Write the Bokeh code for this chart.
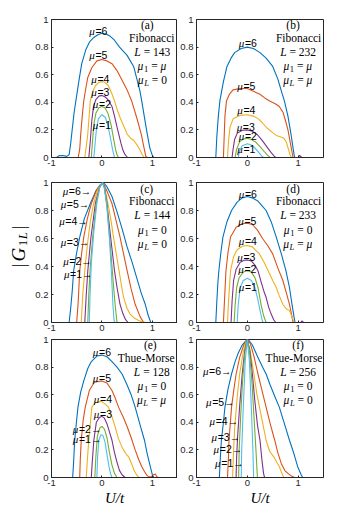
from bokeh.plotting import figure
from bokeh.models import Range1d, FixedTicker, PrintfTickFormatter
from bokeh.layouts import column, row
from bokeh.core.properties import value
from bokeh.embed import file_html
from bokeh.resources import INLINE

# ---------------- data ----------------
X_TICKS = [-1, 0, 1]
Y_TICKS = [0, 0.2, 0.4, 0.6, 0.8, 1]
MU_LEVELS = ["6", "5", "4", "3", "2", "1"]
COLORS = ["#0072BD", "#D95319", "#EDB120", "#7E2F8E", "#77AC30", "#4DBEEE"]

# panel (a)
A6_X = [-1, -0.9, -0.86, -0.78, -0.7, -0.65, -0.62, -0.59, -0.55, -0.5, -0.45, -0.4, -0.32, -0.24, -0.16, -0.08, 0, 0.08, 0.16, 0.25, 0.35, 0.5, 0.63, 0.7, 0.75, 0.79, 0.84, 0.9, 0.95, 1.0, 1.03, 1.5]
A6_Y = [0, 0, 0.012, 0.015, 0.008, 0.02, 0.1, 0.2, 0.33, 0.45, 0.57, 0.68, 0.78, 0.84, 0.87, 0.89, 0.9, 0.895, 0.88, 0.85, 0.8, 0.74, 0.66, 0.56, 0.49, 0.41, 0.3, 0.17, 0.07, 0.015, 0, 0]
A5_X = [-1, -0.47, -0.44, -0.42, -0.39, -0.36, -0.32, -0.28, -0.2, -0.1, 0, 0.1, 0.2, 0.3, 0.4, 0.5, 0.59, 0.69, 0.78, 0.83, 0.87, 0.9, 1.5]
A5_Y = [0, 0, 0.06, 0.17, 0.3, 0.41, 0.5, 0.58, 0.65, 0.7, 0.71, 0.7, 0.68, 0.63, 0.56, 0.49, 0.41, 0.29, 0.17, 0.08, 0.01, 0, 0]
A4_X = [-1, -0.34, -0.31, -0.28, -0.23, -0.18, -0.13, -0.06, 0, 0.06, 0.13, 0.2, 0.25, 0.3, 0.36, 0.43, 0.5, 0.57, 0.63, 0.7, 0.76, 0.8, 0.84, 1.5]
A4_Y = [0, 0, 0.08, 0.17, 0.41, 0.48, 0.52, 0.545, 0.55, 0.545, 0.52, 0.46, 0.41, 0.35, 0.29, 0.23, 0.17, 0.14, 0.125, 0.09, 0.05, 0.02, 0, 0]
A3_X = [-1, -0.26, -0.23, -0.2, -0.165, -0.12, -0.06, 0, 0.06, 0.12, 0.2, 0.25, 0.3, 0.34, 0.38, 0.42, 0.46, 0.51, 1.5]
A3_Y = [0, 0, 0.12, 0.27, 0.37, 0.42, 0.445, 0.45, 0.44, 0.42, 0.37, 0.3, 0.22, 0.16, 0.1, 0.05, 0.02, 0, 0]
A2_X = [-1, -0.21, -0.19, -0.16, -0.12, -0.06, 0, 0.06, 0.12, 0.18, 0.23, 0.27, 0.3, 0.33, 1.5]
A2_Y = [0, 0, 0.1, 0.24, 0.32, 0.36, 0.37, 0.36, 0.32, 0.24, 0.14, 0.06, 0.02, 0, 0]
A1_X = [-1, -0.16, -0.14, -0.11, -0.07, 0, 0.07, 0.12, 0.17, 0.21, 0.25, 1.5]
A1_Y = [0, 0, 0.08, 0.2, 0.28, 0.31, 0.29, 0.23, 0.14, 0.06, 0, 0]

# panel (b)
B6_X = [-1, -0.62, -0.6, -0.57, -0.54, -0.47, -0.4, -0.32, -0.25, -0.12, 0, 0.12, 0.25, 0.37, 0.5, 0.6, 0.68, 0.73, 0.8, 0.86, 0.9, 0.93, 1.5]
B6_Y = [0, 0, 0.15, 0.3, 0.41, 0.55, 0.66, 0.72, 0.76, 0.79, 0.8, 0.79, 0.76, 0.72, 0.66, 0.57, 0.47, 0.41, 0.3, 0.17, 0.07, 0, 0]
B5_X = [-1, -0.47, -0.455, -0.44, -0.41, -0.35, -0.28, -0.14, 0, 0.12, 0.24, 0.35, 0.44, 0.55, 0.63, 0.7, 0.75, 0.8, 0.85, 0.9, 1.5]
B5_Y = [0, 0, 0.15, 0.3, 0.41, 0.46, 0.49, 0.5, 0.5, 0.48, 0.46, 0.43, 0.41, 0.39, 0.37, 0.33, 0.27, 0.2, 0.1, 0, 0]
B4_X = [-1, -0.39, -0.37, -0.34, -0.28, -0.15, 0, 0.12, 0.22, 0.3, 0.4, 0.5, 0.57, 0.65, 0.72, 0.77, 0.81, 0.84, 0.87, 1.5]
B4_Y = [0, 0, 0.12, 0.22, 0.28, 0.305, 0.31, 0.3, 0.28, 0.25, 0.21, 0.18, 0.16, 0.15, 0.14, 0.11, 0.06, 0.02, 0, 0]
B3_X = [-1, -0.3, -0.28, -0.25, -0.2, -0.1, 0, 0.1, 0.2, 0.3, 0.4, 0.47, 0.53, 0.56, 1.0, 1.03, 1.07, 1.5]
B3_Y = [0, 0, 0.06, 0.13, 0.175, 0.198, 0.2, 0.19, 0.165, 0.12, 0.07, 0.035, 0.01, 0, 0, 0.015, 0, 0]
B2_X = [-1, -0.24, -0.21, -0.15, -0.07, 0, 0.08, 0.17, 0.26, 0.34, 0.4, 0.45, 1.5]
B2_Y = [0, 0, 0.06, 0.115, 0.135, 0.14, 0.13, 0.11, 0.075, 0.04, 0.015, 0, 0]
B1_X = [-1, -0.18, -0.15, -0.1, 0, 0.08, 0.16, 0.23, 0.28, 0.32, 1.5]
B1_Y = [0, 0, 0.05, 0.085, 0.1, 0.09, 0.065, 0.035, 0.012, 0, 0]

# panel (c)
C6_X = [-1, -0.65, -0.62, -0.59, -0.56, -0.5, -0.44, -0.35, -0.23, -0.12, -0.04, 0.03, 0.1, 0.2, 0.3, 0.4, 0.5, 0.6, 0.69, 0.78, 0.86, 0.92, 0.97, 1.5]
C6_Y = [0, 0, 0.1, 0.22, 0.37, 0.5, 0.61, 0.74, 0.85, 0.94, 0.98, 1.0, 0.97, 0.9, 0.79, 0.67, 0.54, 0.43, 0.32, 0.21, 0.13, 0.05, 0, 0]
C5_X = [-1, -0.5, -0.47, -0.44, -0.4, -0.36, -0.29, -0.21, -0.1, 0.02, 0.1, 0.2, 0.28, 0.36, 0.43, 0.5, 0.58, 0.66, 0.76, 0.83, 1.5]
C5_Y = [0, 0, 0.15, 0.37, 0.5, 0.61, 0.74, 0.85, 0.95, 1.0, 0.94, 0.85, 0.73, 0.61, 0.49, 0.37, 0.24, 0.13, 0.04, 0, 0]
C4_X = [-1, -0.41, -0.38, -0.34, -0.29, -0.23, -0.165, -0.08, 0.01, 0.06, 0.12, 0.18, 0.23, 0.29, 0.34, 0.39, 0.43, 0.5, 0.56, 0.65, 0.73, 0.8, 0.88, 1.5]
C4_Y = [0, 0, 0.2, 0.37, 0.55, 0.72, 0.85, 0.95, 1.0, 0.96, 0.85, 0.73, 0.61, 0.48, 0.37, 0.26, 0.18, 0.1, 0.06, 0.03, 0.015, 0.005, 0, 0]
C3_X = [-1, -0.34, -0.31, -0.28, -0.22, -0.13, -0.05, 0.01, 0.05, 0.1, 0.17, 0.25, 0.3, 0.36, 0.42, 0.47, 0.52, 1.5]
C3_Y = [0, 0, 0.2, 0.37, 0.6, 0.85, 0.96, 1.0, 0.97, 0.85, 0.62, 0.37, 0.25, 0.13, 0.06, 0.02, 0, 0]
C2_X = [-1, -0.28, -0.26, -0.23, -0.18, -0.11, -0.04, 0.01, 0.05, 0.1, 0.15, 0.2, 0.24, 0.27, 0.3, 1.5]
C2_Y = [0, 0, 0.2, 0.4, 0.62, 0.86, 0.97, 1.0, 0.96, 0.84, 0.62, 0.4, 0.22, 0.1, 0, 0]
C1_X = [-1, -0.25, -0.235, -0.21, -0.16, -0.1, -0.04, 0.01, 0.05, 0.1, 0.15, 0.19, 0.22, 0.24, 0.25, 1.5]
C1_Y = [0, 0, 0.2, 0.42, 0.65, 0.85, 0.97, 1.0, 0.96, 0.82, 0.6, 0.35, 0.12, 0.02, 0, 0]

# panel (d)
D6_X = [-1, -0.62, -0.6, -0.58, -0.56, -0.52, -0.48, -0.4, -0.31, -0.2, -0.1, 0, 0.1, 0.2, 0.3, 0.37, 0.47, 0.57, 0.67, 0.76, 0.83, 0.88, 0.92, 0.94, 1.5]
D6_Y = [0, 0, 0.15, 0.28, 0.37, 0.5, 0.61, 0.72, 0.8, 0.86, 0.89, 0.9, 0.89, 0.87, 0.83, 0.8, 0.72, 0.61, 0.49, 0.37, 0.25, 0.13, 0.04, 0, 0]
D5_X = [-1, -0.47, -0.45, -0.42, -0.38, -0.33, -0.22, -0.1, 0, 0.1, 0.2, 0.3, 0.4, 0.5, 0.6, 0.7, 0.77, 0.83, 0.87, 0.9, 1.5]
D5_Y = [0, 0, 0.15, 0.37, 0.5, 0.61, 0.68, 0.705, 0.71, 0.7, 0.66, 0.6, 0.55, 0.49, 0.39, 0.3, 0.21, 0.13, 0.06, 0, 0]
D4_X = [-1, -0.39, -0.37, -0.33, -0.27, -0.2, -0.1, 0, 0.1, 0.18, 0.24, 0.33, 0.41, 0.5, 0.57, 0.63, 0.7, 0.76, 0.83, 0.87, 0.91, 0.93, 1.5]
D4_Y = [0, 0, 0.15, 0.37, 0.47, 0.52, 0.545, 0.55, 0.54, 0.51, 0.49, 0.43, 0.37, 0.3, 0.25, 0.19, 0.13, 0.1, 0.085, 0.05, 0.01, 0, 0]
D3_X = [-1, -0.32, -0.3, -0.27, -0.22, -0.14, -0.06, 0, 0.08, 0.15, 0.21, 0.28, 0.33, 0.37, 0.42, 0.47, 0.52, 0.56, 1.05, 1.08, 1.11, 1.5]
D3_Y = [0, 0, 0.15, 0.3, 0.38, 0.43, 0.445, 0.447, 0.44, 0.41, 0.37, 0.28, 0.22, 0.18, 0.11, 0.06, 0.02, 0, 0, 0.012, 0, 0]
D2_X = [-1, -0.26, -0.24, -0.21, -0.16, -0.08, 0, 0.08, 0.15, 0.21, 0.27, 0.32, 0.37, 1.5]
D2_Y = [0, 0, 0.12, 0.25, 0.32, 0.36, 0.37, 0.36, 0.32, 0.25, 0.13, 0.05, 0, 0]
D1_X = [-1, -0.2, -0.18, -0.14, -0.08, 0, 0.08, 0.15, 0.21, 0.26, 0.29, 0.31, 1.5]
D1_Y = [0, 0, 0.12, 0.25, 0.3, 0.316, 0.3, 0.25, 0.16, 0.07, 0.02, 0, 0]

# panel (e)
E6_X = [-1, -0.58, -0.56, -0.54, -0.5, -0.475, -0.42, -0.36, -0.28, -0.21, -0.1, 0, 0.1, 0.2, 0.3, 0.4, 0.5, 0.58, 0.66, 0.75, 0.845, 0.9, 0.96, 1.0, 1.03, 1.5]
E6_Y = [0, 0, 0.12, 0.27, 0.42, 0.51, 0.62, 0.7, 0.79, 0.84, 0.88, 0.887, 0.875, 0.84, 0.8, 0.75, 0.67, 0.6, 0.51, 0.39, 0.27, 0.17, 0.08, 0.02, 0, 0]
E5_X = [-1, -0.44, -0.43, -0.41, -0.37, -0.33, -0.25, -0.15, 0, 0.1, 0.2, 0.27, 0.33, 0.42, 0.5, 0.58, 0.66, 0.73, 0.79, 0.85, 0.89, 0.93, 0.98, 1.02, 1.06, 1.09, 1.12, 1.5]
E5_Y = [0, 0, 0.12, 0.27, 0.42, 0.51, 0.63, 0.69, 0.7, 0.685, 0.63, 0.57, 0.51, 0.44, 0.37, 0.29, 0.2, 0.13, 0.08, 0.04, 0.017, 0.005, 0.005, 0.02, 0.025, 0.005, 0, 0]
E4_X = [-1, -0.31, -0.29, -0.26, -0.2, -0.13, -0.06, 0, 0.07, 0.13, 0.2, 0.26, 0.33, 0.4, 0.43, 0.48, 0.53, 0.59, 0.64, 0.67, 0.71, 0.74, 1.5]
E4_Y = [0, 0, 0.12, 0.27, 0.51, 0.54, 0.55, 0.55, 0.53, 0.51, 0.44, 0.37, 0.28, 0.22, 0.2, 0.17, 0.15, 0.1, 0.05, 0.03, 0.01, 0, 0]
E3_X = [-1, -0.21, -0.19, -0.16, -0.11, -0.05, 0, 0.05, 0.1, 0.15, 0.2, 0.25, 0.3, 0.35, 0.4, 0.46, 1.5]
E3_Y = [0, 0, 0.12, 0.27, 0.4, 0.435, 0.443, 0.43, 0.39, 0.33, 0.27, 0.18, 0.11, 0.05, 0.02, 0, 0]
E2_X = [-1, -0.14, -0.12, -0.09, -0.04, 0, 0.05, 0.1, 0.15, 0.2, 0.25, 0.3, 1.5]
E2_Y = [0, 0, 0.15, 0.3, 0.36, 0.37, 0.35, 0.29, 0.18, 0.09, 0.03, 0, 0]
E1_X = [-1, -0.1, -0.085, -0.06, -0.02, 0.02, 0.06, 0.1, 0.14, 0.17, 0.2, 1.5]
E1_Y = [0, 0, 0.15, 0.27, 0.31, 0.305, 0.26, 0.17, 0.08, 0.03, 0, 0]

# panel (f)
F6_X = [-1, -0.55, -0.53, -0.51, -0.47, -0.44, -0.38, -0.31, -0.24, -0.18, -0.1, -0.03, 0.02, 0.1, 0.21, 0.3, 0.37, 0.45, 0.55, 0.63, 0.73, 0.83, 0.92, 0.99, 1.06, 1.09, 1.5]
F6_Y = [0, 0, 0.15, 0.27, 0.4, 0.51, 0.64, 0.75, 0.84, 0.9, 0.96, 0.99, 1.0, 0.96, 0.87, 0.8, 0.75, 0.67, 0.58, 0.51, 0.39, 0.27, 0.17, 0.08, 0.02, 0, 0]
F5_X = [-1, -0.39, -0.37, -0.36, -0.31, -0.26, -0.22, -0.15, -0.07, 0, 0.06, 0.13, 0.21, 0.29, 0.37, 0.45, 0.54, 0.6, 0.67, 0.74, 0.8, 0.87, 0.93, 1.5]
F5_Y = [0, 0, 0.15, 0.27, 0.51, 0.65, 0.75, 0.87, 0.96, 1.0, 0.97, 0.88, 0.75, 0.63, 0.51, 0.39, 0.27, 0.18, 0.1, 0.05, 0.03, 0.01, 0, 0]
F4_X = [-1, -0.29, -0.27, -0.25, -0.2, -0.15, -0.08, -0.01, 0.05, 0.13, 0.19, 0.24, 0.3, 0.37, 0.44, 0.52, 0.58, 0.63, 0.67, 0.7, 0.72, 1.5]
F4_Y = [0, 0, 0.2, 0.35, 0.58, 0.75, 0.91, 1.0, 0.93, 0.75, 0.6, 0.51, 0.4, 0.27, 0.19, 0.15, 0.11, 0.08, 0.04, 0.015, 0, 0]
F3_X = [-1, -0.22, -0.21, -0.19, -0.15, -0.1, -0.05, 0, 0.05, 0.1, 0.15, 0.2, 0.25, 0.29, 0.32, 0.34, 1.5]
F3_Y = [0, 0, 0.15, 0.3, 0.52, 0.75, 0.92, 1.0, 0.92, 0.75, 0.55, 0.38, 0.27, 0.12, 0.03, 0, 0]
F2_X = [-1, -0.17, -0.16, -0.13, -0.09, -0.04, 0, 0.04, 0.09, 0.13, 0.17, 0.19, 0.2, 1.5]
F2_Y = [0, 0, 0.2, 0.45, 0.72, 0.93, 1.0, 0.93, 0.7, 0.45, 0.2, 0.06, 0, 0]
F1_X = [-1, -0.12, -0.11, -0.08, -0.04, 0, 0.04, 0.08, 0.11, 0.125, 1.5]
F1_Y = [0, 0, 0.2, 0.5, 0.85, 1.0, 0.85, 0.5, 0.2, 0, 0]

# curve-label positions (mu = 6 ... 1)
A_LBL_X = [-0.07, -0.07, -0.03, -0.03, 0.0, 0.0]
A_LBL_Y = [0.915, 0.74, 0.57, 0.475, 0.39, 0.235]
B_LBL_X = [0.01, -0.02, -0.02, -0.03, 0.01, -0.02]
B_LBL_Y = [0.83, 0.515, 0.342, 0.222, 0.154, 0.058]
C_LBL_X = [-0.21, -0.25, -0.28, -0.25, -0.2, -0.185]
C_LBL_Y = [0.936, 0.845, 0.727, 0.577, 0.44, 0.347]
D_LBL_X = [0.01, 0.0, 0.01, -0.02, 0.0, 0.01]
D_LBL_Y = [0.92, 0.727, 0.58, 0.47, 0.383, 0.252]
E_LBL_X = [0.0, 0.0, 0.02, 0.02, -0.01, -0.01]
E_LBL_Y = [0.908, 0.722, 0.571, 0.458, 0.354, 0.282]
F_LBL_X = [-0.31, -0.25, -0.18, -0.14, -0.1, -0.07]
F_LBL_Y = [0.77, 0.547, 0.41, 0.29, 0.205, 0.106]

# panel annotations
TAGS = ["(a)", "(b)", "(c)", "(d)", "(e)", "(f)"]
CHAINS = ["Fibonacci", "Fibonacci", "Fibonacci", "Fibonacci", "Thue-Morse", "Thue-Morse"]
L_VALUES = ["143", "232", "144", "233", "128", "256"]
MU1_VALUES = ["μ", "μ", "0", "0", "0", "0"]
MUL_VALUES = ["0", "μ", "0", "μ", "μ", "0"]
TAG_X = [0.9, 0.9, 0.89, 0.9, 0.96, 1.0]
CHAIN_X = [0.99, 1.01, 0.99, 1.01, 0.88, 0.92]
INFO_X = [1.0, 1.0, 1.0, 1.0, 0.99, 1.0]
INFO_Y = [0.957, 0.866, 0.766, 0.662, 0.562]

# ---------------- drawing ----------------
SERIF = "Liberation Serif"
SANS = "Liberation Sans"
AX_COLOR = "#262626"

SERIF_W = {' ': 0.25, '=': 0.564, '(': 0.333, ')': 0.333, '-': 0.333, 'F': 0.556, 'i': 0.278, 'b': 0.5,
           'o': 0.5, 'n': 0.5, 'a': 0.444, 'c': 0.444, 'd': 0.5, 'e': 0.444, 'f': 0.333, 'T': 0.611,
           'h': 0.5, 'u': 0.5, 'M': 0.889, 'r': 0.333, 's': 0.389, '|': 0.2, '/': 0.278,
           'L': 0.556, 'μ': 0.56, 'G': 0.722, 'U': 0.722, 't': 0.278}
SANS_W = {'=': 0.584, '→': 1.0}


def text_width(t, fam, size):
    table = SERIF_W if fam == SERIF else SANS_W
    total = 0.0
    for ch in t:
        if ch.isdigit():
            total += 0.5 if fam == SERIF else 0.556
        else:
            total += table.get(ch, 0.5)
    return total * size


def put(p, x, y, pieces, align="center", color="#000000"):
    widths = [text_width(t, fam, size) for (t, fam, size, style, dy) in pieces]
    total = sum(widths)
    off = {"center": -total / 2, "right": -total, "left": 0}[align]
    for (t, fam, size, style, dy), w in zip(pieces, widths):
        lead = len(t) - len(t.lstrip(" "))
        shown = t.strip(" ")
        p.text(x=[x], y=[y], text=[shown], x_offset=off + text_width(" " * lead, fam, size),
               y_offset=dy, text_align="left", text_baseline="middle", text_font=value(fam),
               text_font_size=f"{size}px", text_font_style=style, text_color=color)
        off += w


def mu_piece(v, size):
    return (v, SERIF, size, "italic" if v == "μ" else "normal", 0)


YLAB_W = 32
ROW_TOP = [19, 6, 4]
ROW_FRAME = [138, 140, 138]
ROW_BOTTOM = [19, 13, 34]


def make_fig(col, rw):
    ml = 17 if col == 0 else 19
    mr = 0 if col == 0 else 4
    w = ml + (128 if col == 0 else 127) + mr
    h = ROW_TOP[rw] + ROW_FRAME[rw] + ROW_BOTTOM[rw]
    p = figure(width=w, height=h, min_border_left=ml, min_border_right=mr,
               min_border_top=ROW_TOP[rw], min_border_bottom=ROW_BOTTOM[rw], x_range=Range1d(-1, 1.5),
               y_range=Range1d(0, 1), output_backend="svg", toolbar_location=None, tools="")
    p.background_fill_color = "white"
    p.border_fill_color = "white"
    p.outline_line_color = AX_COLOR
    p.outline_line_width = 1
    p.grid.visible = False
    p.xaxis.ticker = FixedTicker(ticks=X_TICKS)
    p.yaxis.ticker = FixedTicker(ticks=Y_TICKS)
    for ax, standoff in ((p.xaxis, 2), (p.yaxis, 3)):
        ax.formatter = PrintfTickFormatter(format="%g")
        ax.major_label_text_font = SANS
        ax.major_label_text_font_size = "9.5px"
        ax.major_label_text_color = AX_COLOR
        ax.major_label_standoff = standoff
        ax.axis_line_color = AX_COLOR
        ax.major_tick_line_color = AX_COLOR
        ax.major_tick_in = 2
        ax.major_tick_out = 0
        ax.minor_tick_line_color = None
    if rw == 2:
        p.xaxis.axis_label = "U/t"
        p.xaxis.axis_label_text_font = SERIF
        p.xaxis.axis_label_text_font_size = "15px"
        p.xaxis.axis_label_text_font_style = "italic"
        p.xaxis.axis_label_text_color = "#000000"
        p.xaxis.axis_label_standoff = 1
    return p


CURVES = [
    ([A6_X, A5_X, A4_X, A3_X, A2_X, A1_X], [A6_Y, A5_Y, A4_Y, A3_Y, A2_Y, A1_Y], A_LBL_X, A_LBL_Y, [False] * 6),
    ([B6_X, B5_X, B4_X, B3_X, B2_X, B1_X], [B6_Y, B5_Y, B4_Y, B3_Y, B2_Y, B1_Y], B_LBL_X, B_LBL_Y, [False] * 6),
    ([C6_X, C5_X, C4_X, C3_X, C2_X, C1_X], [C6_Y, C5_Y, C4_Y, C3_Y, C2_Y, C1_Y], C_LBL_X, C_LBL_Y, [True] * 6),
    ([D6_X, D5_X, D4_X, D3_X, D2_X, D1_X], [D6_Y, D5_Y, D4_Y, D3_Y, D2_Y, D1_Y], D_LBL_X, D_LBL_Y, [False] * 6),
    ([E6_X, E5_X, E4_X, E3_X, E2_X, E1_X], [E6_Y, E5_Y, E4_Y, E3_Y, E2_Y, E1_Y], E_LBL_X, E_LBL_Y, [False] * 4 + [True] * 2),
    ([F6_X, F5_X, F4_X, F3_X, F2_X, F1_X], [F6_Y, F5_Y, F4_Y, F3_Y, F2_Y, F1_Y], F_LBL_X, F_LBL_Y, [True] * 6),
]

figs = []
for k, (xs, ys, lx, ly, arrows) in enumerate(CURVES):
    col, rw = k % 2, k // 2
    p = make_fig(col, rw)
    for x, y, c in zip(xs, ys, COLORS):
        p.line(x, y, line_color=c, line_width=1.1)
    for mu, x, y, arr in zip(MU_LEVELS, lx, ly, arrows):
        pieces = [("μ", SERIF, 11, "italic", 0), ("=" + mu, SANS, 10.5, "normal", 0)]
        if arr:
            pieces.append(("→", SANS, 10.5, "normal", 0))
        put(p, x, y, pieces, align="right" if arr else "center")
    fs = 11.5
    put(p, TAG_X[k], INFO_Y[0], [(TAGS[k], SERIF, fs, "normal", 0)])
    put(p, CHAIN_X[k], INFO_Y[1], [(CHAINS[k], SERIF, fs, "normal", 0)])
    put(p, INFO_X[k], INFO_Y[2], [("L", SERIF, fs, "italic", 0), (" = " + L_VALUES[k], SERIF, fs, "normal", 0)])
    put(p, INFO_X[k], INFO_Y[3], [("μ", SERIF, fs, "italic", 0), ("1", SERIF, 8.5, "normal", 3),
                                  (" = ", SERIF, fs, "normal", 0), mu_piece(MU1_VALUES[k], fs)])
    put(p, INFO_X[k], INFO_Y[4], [("μ", SERIF, fs, "italic", 0), ("L", SERIF, 8.5, "italic", 3),
                                  (" = ", SERIF, fs, "normal", 0), mu_piece(MUL_VALUES[k], fs)])
    figs.append(p)

# narrow strip on the left holding the shared y label |G_1L|
TOTAL_H = sum(ROW_TOP) + sum(ROW_FRAME) + sum(ROW_BOTTOM)
ylab = figure(width=YLAB_W, height=TOTAL_H, x_range=Range1d(0, YLAB_W), y_range=Range1d(0, TOTAL_H),
              min_border=0, x_axis_location=None, y_axis_location=None,
              output_backend="svg", toolbar_location=None, tools="")
ylab.grid.visible = False
ylab.outline_line_color = None
ylab.background_fill_color = "white"
ylab.border_fill_color = "white"
YL_PIECES = [("|", 19, "normal", 0, 2.0), ("G", 19, "italic", 0, 1.5), ("1", 13, "normal", 4, 0.5),
             ("L", 13, "italic", 4, 2.5), ("|", 19, "normal", 0, 0)]
yl_total = sum(text_width(t, SERIF, s) + g for (t, s, st, dx, g) in YL_PIECES)
ypos = (TOTAL_H - 246) - yl_total / 2
for (t, s, st, dx, g) in YL_PIECES:
    ylab.text(x=[18 + dx], y=[ypos], text=[t], angle=90, angle_units="deg", text_align="left",
              text_baseline="alphabetic", text_font=value(SERIF), text_font_size=f"{s}px",
              text_font_style=st, text_color="#000000")
    ypos += text_width(t, SERIF, s) + g

grid = column(row(figs[0], figs[1]), row(figs[2], figs[3]), row(figs[4], figs[5]))
layout = row(ylab, grid)
open("out.html", "w").write(file_html(layout, INLINE))
